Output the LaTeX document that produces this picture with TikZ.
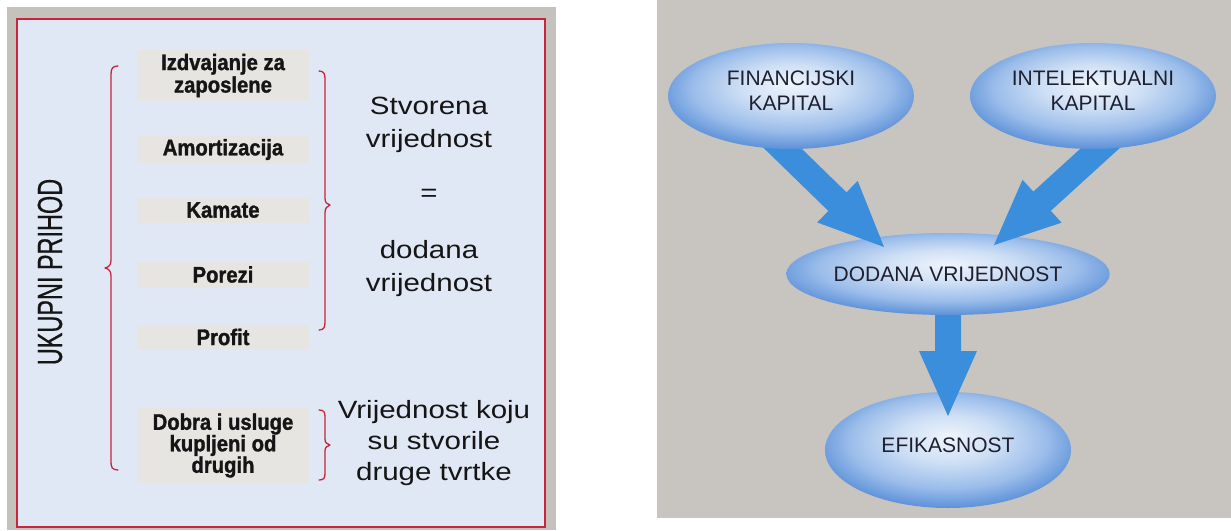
\documentclass[tikz,border=0pt]{standalone}
\usepackage{fontspec}
\setmainfont{Liberation Sans}
\newfontfamily\widefont[FakeStretch=1.18]{Liberation Sans}
\newfontfamily\labfont[FakeStretch=0.9,BoldFeatures={FakeBold=1.3}]{Liberation Sans}
\newfontfamily\condfont[FakeStretch=0.67,FakeBold=0.4]{Liberation Sans}
\usetikzlibrary{shapes.geometric,calc}
\definecolor{pgrey}{HTML}{C5C1BD}
\definecolor{rgrey}{HTML}{C8C4C0}
\definecolor{pfill}{HTML}{E1E8F5}
\definecolor{bred}{HTML}{C8243C}
\definecolor{lboxc}{HTML}{E7E5E2}
\definecolor{txt}{HTML}{151515}
\definecolor{etxt}{HTML}{1E2030}
\definecolor{ablue}{HTML}{3A8EDB}
\definecolor{gl0}{HTML}{EEF4FC}
\definecolor{gl1}{HTML}{CFE0F5}
\definecolor{gl2}{HTML}{9BBDEA}
\definecolor{gl3}{HTML}{5A8FD8}
\pgfdeclareradialshading{glossy}{\pgfpoint{0bp}{6bp}}{color(0bp)=(gl0); color(10bp)=(gl1); color(20bp)=(gl2); color(28bp)=(gl3); color(50bp)=(gl3)}
\pgfdeclarelayer{back}
\pgfdeclarelayer{mid}
\pgfsetlayers{back,mid,main}
\newcommand\blockarrow[2]{%
  \coordinate (ba-h) at ($(#2)!65pt!(#1)$);
  \fill[ablue] ($(#1)!13pt!90:(#2)$) -- ($(ba-h)!13pt!90:(#2)$) -- ($(ba-h)!29pt!90:(#2)$) -- (#2)
    -- ($(ba-h)!29pt!-90:(#2)$) -- ($(ba-h)!13pt!-90:(#2)$) -- ($(#1)!13pt!-90:(#2)$) -- cycle;}
\tikzset{
  lbox/.style={fill=lboxc, minimum width=172pt, inner sep=0pt, align=center, text=txt,
    font=\labfont\bfseries\fontsize{22.5}{22.5}\selectfont},
  wtxt/.style={inner sep=0pt, align=center, text=txt, font=\widefont\fontsize{25}{33}\selectfont},
  ell/.style={ellipse, shading=glossy, inner sep=0pt, align=center, text=etxt,
    font=\fontsize{21}{25}\selectfont},
  brace/.style={draw=bred, line width=1.3pt, line cap=round, line join=round},
}
\begin{document}
\begin{tikzpicture}[x=1pt,y=-1pt]
\useasboundingbox (0,0) rectangle (1231,530);
\begin{pgfonlayer}{back}
\fill[white] (0,0) rectangle (1231,530);
% left panel
\fill[pgrey] (7,7) rectangle (556,530);
\filldraw[fill=pfill, draw=bred, line width=1.5pt] (17,19) rectangle (545,527);
% right panel
\fill[rgrey] (657,0) rectangle (1231,518);
\node[ell, minimum width=292pt, minimum height=82pt] (dod) at (948,274) {DODANA VRIJEDNOST};
\node[ell, minimum width=246pt, minimum height=116pt, text depth=10pt] (efi) at (948,450) {EFIKASNOST};
\end{pgfonlayer}

% left panel content
\node[rotate=90, inner sep=0pt, text=txt, font=\condfont\fontsize{35}{35}\selectfont] (uk) at (50,272) {UKUPNI PRIHOD};

\draw[brace] (118,66) .. controls (112,66) and (111,69) .. (111,75) -- (111,260)
  .. controls (111,265) and (109,267) .. (105,268) .. controls (109,269) and (111,271) .. (111,276)
  -- (111,462) .. controls (111,467) and (112,470) .. (118,470);

\node[lbox, minimum height=51pt] (izd) at (223,75.5) {Izdvajanje za\\zaposlene};
\node[lbox, minimum height=27pt] (amo) at (223,149.5) {Amortizacija};
\node[lbox, minimum height=25pt] (kam) at (223,210) {Kamate};
\node[lbox, minimum height=26pt] (por) at (223,274.5) {Porezi};
\node[lbox, minimum height=25pt] (pro) at (223,337) {Profit};
\node[lbox, minimum height=75pt, font=\labfont\bfseries\fontsize{22.5}{21.5}\selectfont] (dob) at (223,445.5) {Dobra i usluge\\kupljeni od\\drugih};

\draw[brace] (319,71) .. controls (324,71) and (325,74) .. (325,79) -- (325,198)
  .. controls (325,203) and (327,204) .. (330,205) .. controls (327,206) and (325,208) .. (325,213)
  -- (325,322) .. controls (325,327) and (324,330) .. (319,330);
\draw[brace] (319,410) .. controls (324,410) and (325,412) .. (325,417) -- (325,439)
  .. controls (325,443) and (327,444) .. (330,445) .. controls (327,446) and (325,447) .. (325,451)
  -- (325,473) .. controls (325,478) and (324,480) .. (319,480);

\node[wtxt, anchor=north] (sv) at (429,97) {Stvorena\\vrijednost};
\node[wtxt] (eq) at (429,195) {=};
\node[wtxt, anchor=north] (dv) at (429,240) {dodana\\vrijednost};
\node[wtxt, anchor=north, font=\widefont\fontsize{25}{31}\selectfont] (vk) at (434,400) {Vrijednost koju\\su stvorile\\druge tvrtke};

% right panel
\node[ell, minimum width=246pt, minimum height=106pt, text depth=10pt] (fin) at (791,96) {FINANCIJSKI\\KAPITAL};
\node[ell, minimum width=246pt, minimum height=106pt, text depth=10pt] (int) at (1093,96) {INTELEKTUALNI\\KAPITAL};

\coordinate (a1s) at ($(fin.south)+(-28,-20)$);
\coordinate (a1t) at ($(dod.center)+(-64,-27)$);
\coordinate (a2s) at ($(int.south)+(27,-19)$);
\coordinate (a2t) at ($(dod.center)+(46,-29)$);
\coordinate (a3s) at (dod.south);
\coordinate (a3t) at ($(efi.center)+(0,-34)$);
\begin{pgfonlayer}{mid}
\blockarrow{a1s}{a1t}
\blockarrow{a2s}{a2t}
\blockarrow{a3s}{a3t}
\end{pgfonlayer}
\end{tikzpicture}
\end{document}
